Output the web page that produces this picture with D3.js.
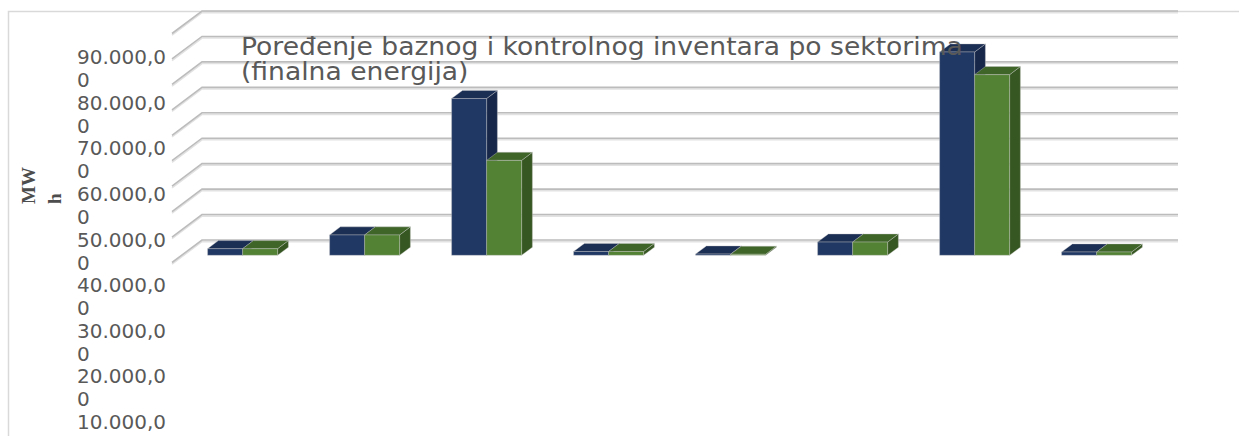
<!DOCTYPE html>
<html>
<head>
<meta charset="utf-8">
<script src="https://cdn.jsdelivr.net/npm/d3@7"></script>
<style>
  html, body { margin: 0; padding: 0; background: #ffffff; }
  svg { display: block; }
</style>
</head>
<body>
<div id="chart"></div>
<script>
// Sectors and the two inventories (final energy, MWh)
const categories = ["Sektor 1", "Sektor 2", "Sektor 3", "Sektor 4", "Sektor 5", "Sektor 6", "Sektor 7", "Sektor 8"];
const seriesNames = ["Bazni inventar", "Kontrolni inventar"];
const baseValues = [2600, 8000, 61600, 1500, 500, 5200, 79900, 1300];
const controlValues = [2600, 8000, 37300, 1500, 400, 5200, 71000, 1300];
const gridValues = [0, 10000, 20000, 30000, 40000, 50000, 60000, 70000, 80000, 90000];
const tickLabelValues = [90000, 80000, 70000, 60000, 50000, 40000, 30000, 20000, 10000];
const titleLines = ["Poređenje baznog i kontrolnog inventara po sektorima", "(finalna energija)"];
const axisTitleLines = ["MW", "h"];

const W = 1239, H = 436;
const svg = d3.select("#chart").append("svg")
  .attr("width", W).attr("height", H);

// Back wall scales
const x = d3.scaleBand().domain(categories).range([202, 1178]).paddingInner(0).paddingOuter(0);
const xs = d3.scaleBand().domain(seriesNames).range([0, x.bandwidth()]).paddingInner(0).paddingOuter(0.743);
const y = d3.scaleLinear().domain([0, 90000]).range([240, 11]);

// Oblique depth projection: depth 0 = back wall, 1 = front edge of floor
const DX = -30, DY = 22.5;
const proj = (px, py, d) => [px + DX * d, py + DY * d];
const dBack = 0.32, dFront = 0.68;

// Chart frame
svg.append("path")
  .attr("d", `M8.5,${H} V11.5 H${W}`)
  .attr("fill", "none").attr("stroke", "#d9d9d9").attr("stroke-width", 1.5);

// Gridlines on the back wall and the side wall
const grid = svg.append("g");
gridValues.forEach(v => {
  const yy = y(v);
  const [lx, ly] = proj(x.range()[0], yy, 1);
  const p = `M${lx},${ly} L${x.range()[0]},${yy} H${x.range()[1]}`;
  grid.append("path").attr("d", p).attr("transform", "translate(0,1.6)")
    .attr("fill", "none").attr("stroke", "#e2e2e2").attr("stroke-width", 1.6);
  grid.append("path").attr("d", p)
    .attr("fill", "none").attr("stroke", "#bcbcbc").attr("stroke-width", 1.6);
});

// 3D bars
const seriesData = [
  { name: seriesNames[0], values: baseValues, front: "#203864", top: "#1b2e54", side: "#16274a" },
  { name: seriesNames[1], values: controlValues, front: "#548235", top: "#3f6528", side: "#375722" }
];

const bars = svg.append("g");
categories.forEach((c, i) => {
  seriesData.forEach(s => {
    const v = s.values[i];
    const x0 = x(c) + xs(s.name);
    const x1 = x0 + xs.bandwidth();
    const yTop = y(v), yBot = y(0);
    const fTL = proj(x0, yTop, dFront), fTR = proj(x1, yTop, dFront);
    const fBL = proj(x0, yBot, dFront), fBR = proj(x1, yBot, dFront);
    const bTL = proj(x0, yTop, dBack), bTR = proj(x1, yTop, dBack);
    const bBR = proj(x1, yBot, dBack);
    const poly = pts => "M" + pts.map(p => p.join(",")).join("L") + "Z";
    const g = bars.append("g").attr("stroke", "rgba(200,200,200,0.55)").attr("stroke-width", 0.7);
    g.append("path").attr("d", poly([fTR, bTR, bBR, fBR])).attr("fill", s.side);
    g.append("path").attr("d", poly([fTL, bTL, bTR, fTR])).attr("fill", s.top);
    g.append("path").attr("d", poly([fTL, fTR, fBR, fBL])).attr("fill", s.front);
  });
});

// Value axis labels (wrapped to a narrow column)
const fmt = d3.formatLocale({ decimal: ",", thousands: ".", grouping: [3], currency: ["", ""] }).format(",.2f");
const labelY = d3.scalePoint().domain(tickLabelValues).range([64, 429]);
const labels = svg.append("g")
  .attr("font-family", "'DejaVu Sans', sans-serif").attr("font-size", 20).attr("fill", "#595959");
tickLabelValues.forEach(v => {
  const s = fmt(v);
  const t = labels.append("text").attr("x", 77).attr("y", labelY(v));
  t.append("tspan").attr("x", 77).text(s.slice(0, 8));
  const rest = s.slice(8);
  if (rest && labelY(v) + 23 < H) t.append("tspan").attr("x", 77).attr("dy", 23).text(rest);
});

// Axis title, rotated and wrapped
const at = svg.append("g")
  .attr("font-family", "'Liberation Serif', 'Times New Roman', serif")
  .attr("font-weight", "bold").attr("font-size", 19).attr("fill", "#4d4d4d");
axisTitleLines.forEach((line, i) => {
  at.append("text")
    .attr("transform", `translate(${35 + i * 26},204) rotate(-90)`)
    .text(line);
});

// Chart title
const title = svg.append("g")
  .attr("transform", "translate(241,0) scale(1.108,1)")
  .attr("font-family", "'DejaVu Sans', sans-serif").attr("font-size", 24).attr("fill", "#595959");
titleLines.forEach((line, i) => {
  title.append("text").attr("x", 0).attr("y", 55 + i * 25.5).text(line);
});
</script>
</body>
</html>
